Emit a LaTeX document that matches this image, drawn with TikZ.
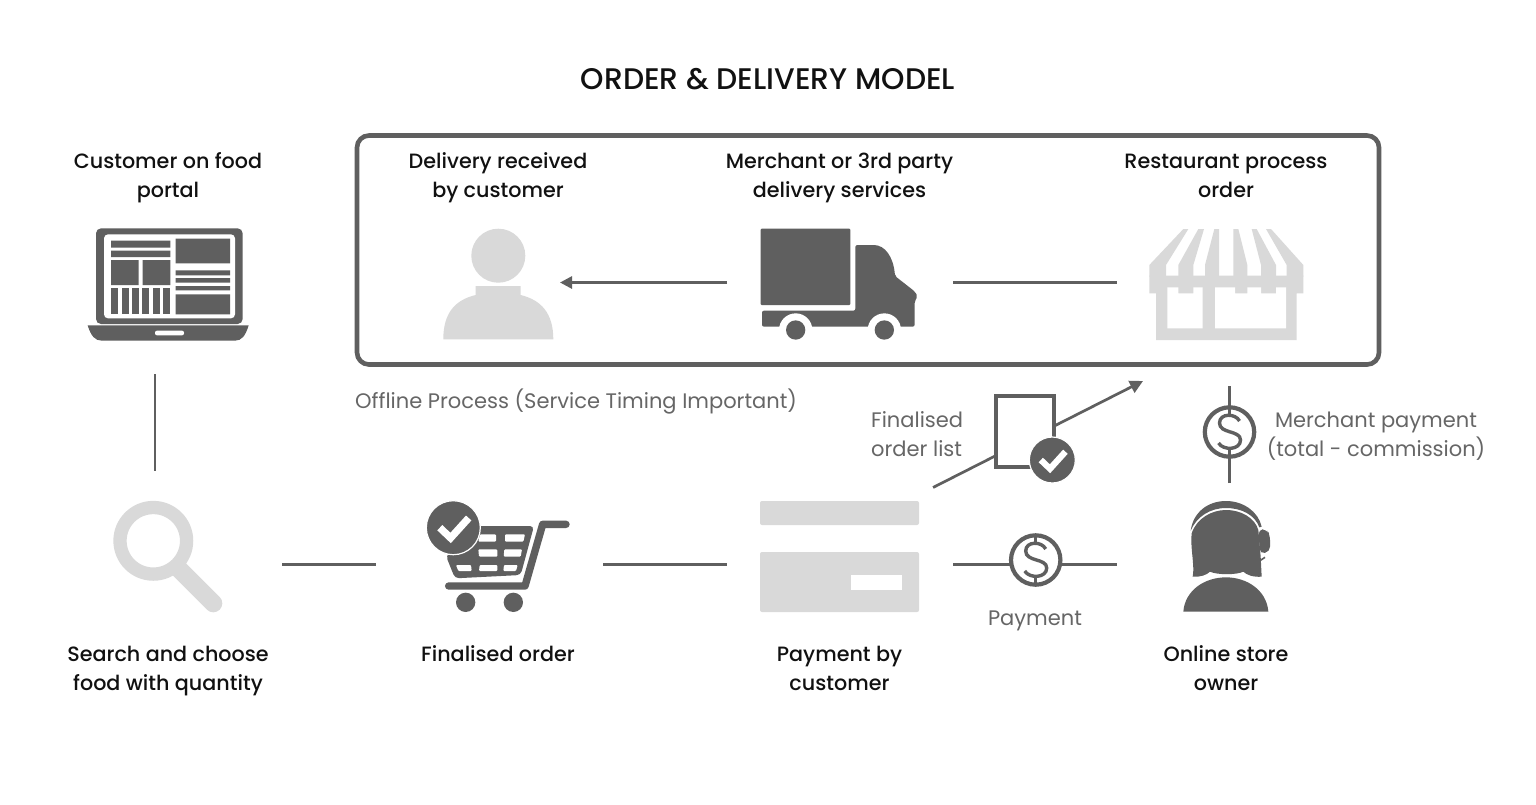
\documentclass[tikz,border=0pt]{standalone}
\usepackage{fontspec}
\setmainfont{Poppins}
\newfontfamily\mediumfont{Poppins Medium}
\usepackage{tikz}
\usetikzlibrary{positioning,arrows.meta,shapes.geometric}
\usepackage{xcolor}
\definecolor{iconDark}{HTML}{5F5F5F}
\definecolor{iconLight}{HTML}{D9D9D9}
\definecolor{noteGray}{HTML}{666666}
\definecolor{textBlack}{HTML}{111111}
\tikzset{
  caption/.style={align=center, text=textBlack, inner sep=0pt, font=\mediumfont\fontsize{20.7}{29}\selectfont},
  note/.style={align=center, text=noteGray, inner sep=0pt, font=\fontsize{21}{29}\selectfont},
  flow/.style={draw=iconDark, line width=2.7pt},
  iconbox/.style={inner sep=0pt},
  zoomed/.style={scale=1/3},
  pics/dollar/.style={code={
    \fill[white] (0,0) circle (26);
    \draw[iconDark, line width=4.2pt] (0,0) circle (24.7);
    \draw[iconDark, line width=3.4pt] (10,-11) .. controls (6,-19) and (-10,-19) .. (-10,-9)
      .. controls (-10,2) and (11,-2) .. (11,8) .. controls (11,18) and (-6,19) .. (-11,11);
    \draw[iconDark, line width=2.7pt] (0,-24) -- (0,-16) (0,16) -- (0,24);
  }},
  pics/tick/.style={code={
    \fill[iconDark, draw=white, line width=1.2pt] (0,0) circle (#1);
    \draw[white, line width=0.27*#1 pt, line join=miter] (-0.5*#1,0) -- (-0.1*#1,0.38*#1) -- (0.57*#1,-0.36*#1);
  }},
}
\begin{document}
\begin{tikzpicture}[x=1pt, y=-1pt]
  \useasboundingbox[fill=white] (0,0) rectangle (1536,804);

  % Title and the offline frame
  \node[inner sep=0pt, text=textBlack, font=\mediumfont\fontsize{29.8}{32}\selectfont] (title) at (768,79) {ORDER \& DELIVERY MODEL};
  \node[draw=iconDark, line width=4.6pt, rounded corners=12pt, minimum width=1022pt, minimum height=229pt] (offline) at (868,250) {};
  \node[note, anchor=west] (offlineNote) at (355,402) {Offline Process (Service Timing Important)};

  % Captions
  \node[caption] (portalText) at (168,177.5) {Customer on food\\portal};
  \node[caption] (receivedText) at (498,177.5) {Delivery received\\by customer};
  \node[caption] (merchantText) at (839.5,177.5) {Merchant or 3rd party\\delivery services};
  \node[caption] (restaurantText) at (1226,175.5) {Restaurant process\\order};
  \node[caption] (searchText) at (168,671.5) {Search and choose\\food with quantity};
  \node[caption] (orderText) at (498,654) {Finalised order};
  \node[caption] (payText) at (839.5,668) {Payment by\\customer};
  \node[caption] (ownerText) at (1226,668) {Online store\\owner};
  \node[note] (paymentNote) at (1035,621) {Payment};
  \node[note, align=left, anchor=west] (listNote) at (871,434.5) {Finalised\\order list};
  \node[note] (merchantNote) at (1376,436.5) {Merchant payment\\(total - commission)};

  % Free ends of the connectors
  \coordinate (laptopEnd) at (155,374);
  \coordinate (searchTop) at (155,471);
  \coordinate (searchEnd) at (282,564.5);
  \coordinate (cartStart) at (376,564.5);
  \coordinate (cartEnd) at (603,564.5);
  \coordinate (cardStart) at (727,564.5);
  \coordinate (cardEnd) at (953,564.5);
  \coordinate (ownerStart) at (1117,564.5);
  \coordinate (truckStart) at (727,282.5);
  \coordinate (personEnd) at (560,282.5);
  \coordinate (truckEnd) at (953,282.5);
  \coordinate (storeStart) at (1117,282.5);
  \coordinate (listStart) at (933,487.5);
  \coordinate (listEnd) at (1143,381);
  \coordinate (ownerTop) at (1229.5,483);
  \coordinate (storeLow) at (1229.5,386);

  \draw[flow] (laptopEnd) -- (searchTop);
  \draw[flow] (searchEnd) -- (cartStart);
  \draw[flow] (cartEnd) -- (cardStart);
  \draw[flow] (cardEnd) -- (ownerStart);
  \draw[flow] (truckEnd) -- (storeStart);
  \draw[flow] (ownerTop) -- (storeLow);
  \draw[flow, -{Triangle[length=12pt,width=12pt]}] (truckStart) -- (personEnd);
  \draw[flow, -{Triangle[length=13pt,width=13pt]}] (listStart) -- (listEnd);

  % Dollar coins on the payment lines
  \pic at (1035.7,560) {dollar};
  \pic at (1229.5,432) {dollar};

  % Order list sheet
  \node[iconbox, draw=iconDark, fill=white, line width=4.4pt, minimum width=58pt, minimum height=71pt] (sheet) at (1024.7,431.7) {};
  \pic at (1052.3,460) {tick=23};

  % Laptop
  \begin{scope}[shift={(60,210)}, zoomed]
    \fill[iconDark, rounded corners=5pt] (108,55) rectangle (548,342);
    \fill[white, rounded corners=4pt] (132,73) rectangle (525,325);
    \fill[iconDark] (83,346) -- (566,346) .. controls (556,378) and (545,392) .. (525,392) -- (125,392) .. controls (105,392) and (93,378) .. (83,346) -- cycle;
    \fill[white, rounded corners=2pt] (285,362) rectangle (372,376);
    \fill[iconDark] (153,92) rectangle (331,113) (153,122) rectangle (331,141);
    \fill[iconDark] (153,150) rectangle (236,225) (248,150) rectangle (331,225);
    \foreach \bx in {153,184.5,216,247,279,310} {
      \fill[iconDark] (\bx,233) rectangle +(21,80);
    }
    \fill[iconDark] (347,86) rectangle (510,160) (347,253) rectangle (510,313);
    \fill[iconDark] (347,181) rectangle (510,196) (347,204) rectangle (510,218) (347,228) rectangle (510,241);
  \end{scope}

  % Customer
  \fill[iconLight] (498.3,255.7) circle (27);
  \fill[iconLight] (475.7,286) -- (520.7,286) -- (520.7,295) .. controls (541,300) and (553.3,313) .. (553.3,339.3)
    -- (443.3,339.3) .. controls (443.3,313) and (455,300) .. (475.7,295) -- cycle;

  % Delivery truck
  \begin{scope}[shift={(740,215)}, zoomed]
    \fill[iconDark, rounded corners=1pt] (62,41) rectangle (331,270);
    \fill[iconDark, rounded corners=2pt] (66,287) -- (346,287) -- (346,90) -- (395,90)
      .. controls (435,90) and (460,125) .. (465,183) -- (525,230) -- (533,245) -- (524,258) -- (524,335) -- (66,335) -- cycle;
    \fill[white] (167,345) circle (50) (433,345) circle (50);
    \fill[white] (60,336) rectangle (540,400);
    \fill[iconDark] (167,345) circle (29) (433,345) circle (29);
  \end{scope}

  % Restaurant awning and shop front
  \begin{scope}[shift={(1130,210)}, zoomed]
    \fill[iconLight] (58,165) -- (160,57) -- (175,57) -- (108,165) -- (108,200) -- (58,200) -- cycle;
    \fill[iconLight] (145,165) -- (205,57) -- (222,57) -- (190,165) -- (190,200) -- (145,200) -- cycle;
    \fill[iconLight] (225,165) -- (253,57) -- (267,57) -- (267,200) -- (225,200) -- cycle;
    \fill[iconLight] (310,57) -- (325,57) -- (352,165) -- (352,200) -- (310,200) -- cycle;
    \fill[iconLight] (365,57) -- (380,57) -- (438,165) -- (438,200) -- (393,200) -- (393,165) -- cycle;
    \fill[iconLight] (408,57) -- (423,57) -- (520,165) -- (520,200) -- (470,200) -- (470,165) -- cycle;
    \fill[iconLight] (58,197) -- (520,197) -- (520,250) -- (500,250) -- (500,390) -- (78,390) -- (78,250) -- (58,250) -- cycle;
    \fill[white] (112,232) -- (145,232) -- (145,250) -- (190,250) -- (190,232) -- (218,232) -- (218,355) -- (112,355) -- cycle;
    \fill[white] (255,232) -- (315,232) -- (315,250) -- (352,250) -- (352,232) -- (393,232) -- (393,250) -- (438,250) -- (438,232) -- (468,232) -- (468,355) -- (255,355) -- cycle;
  \end{scope}

  % Magnifier
  \draw[iconLight, line width=13.3pt] (153.3,540.8) circle (33.3);
  \draw[iconLight, line width=18pt, line cap=round] (180,570) -- (213.3,603.3);

  % Shopping cart
  \begin{scope}[shift={(410,490)}, zoomed]
    \fill[iconDark, rounded corners=4pt] (200,108) -- (372,108) -- (332,255) -- (135,265) -- (108,198) -- (150,150) -- cycle;
    \fill[white, rounded corners=1pt] (210,133) -- (258,133) -- (258,155) -- (205,155) -- cycle;
    \fill[white, rounded corners=1pt] (285,133) -- (345,133) -- (340,155) -- (285,155) -- cycle;
    \fill[white, rounded corners=1pt] (205,178) -- (262,178) -- (262,200) -- (207,200) -- cycle;
    \fill[white, rounded corners=1pt] (283,178) -- (336,178) -- (332,200) -- (281,200) -- cycle;
    \fill[white, rounded corners=1pt] (138,225) -- (183,225) -- (185,243) -- (145,243) -- cycle;
    \fill[white, rounded corners=1pt] (209,225) -- (262,225) -- (262,243) -- (207,243) -- cycle;
    \fill[white, rounded corners=1pt] (282,225) -- (323,225) -- (318,243) -- (280,243) -- cycle;
    \draw[iconDark, line width=7.4pt, line cap=round, line join=round] (116,288) -- (345,288) -- (398,103) -- (468,103);
    \fill[iconDark] (167,337) circle (29) (310,337) circle (29);
  \end{scope}
  \pic at (453.3,527.7) {tick=27};

  % Card
  \fill[iconLight, rounded corners=2pt] (760,501) -- (919,501) -- (919,525) -- (760,525) -- cycle;
  \fill[iconLight, rounded corners=2pt] (760,552) -- (919,552) -- (919,612) -- (760,612) -- cycle;
  \fill[white] (851,575) rectangle (902,590);

  % Store owner with headset
  \begin{scope}[shift={(1150,380)}, zoomed]
    \fill[iconDark] (122,452) .. controls (130,395) and (175,363) .. (228,363) .. controls (280,363) and (325,395) .. (335,440)
      -- (328,442) .. controls (315,405) and (275,384) .. (228,384) .. controls (180,384) and (140,410) .. (122,452) -- cycle;
    \fill[iconDark] (125,460) .. controls (140,415) and (185,390) .. (228,390) .. controls (275,390) and (315,415) .. (325,450)
      -- (332,530) -- (335,590) .. controls (310,592) and (290,585) .. (280,575) .. controls (260,585) and (200,585) .. (180,575)
      .. controls (170,585) and (150,592) .. (128,590) .. controls (135,560) and (120,500) .. (125,460) -- cycle;
    \fill[iconDark, rounded corners=5pt] (325,448) -- (350,448) -- (360,465) -- (360,515) -- (330,522) -- cycle;
    \draw[iconDark, line width=1.6pt] (330,542) -- (345,532);
    \fill[iconDark] (100,695) .. controls (105,630) and (165,592) .. (228,592) .. controls (290,592) and (350,630) .. (355,695) -- cycle;
  \end{scope}
\end{tikzpicture}
\end{document}
